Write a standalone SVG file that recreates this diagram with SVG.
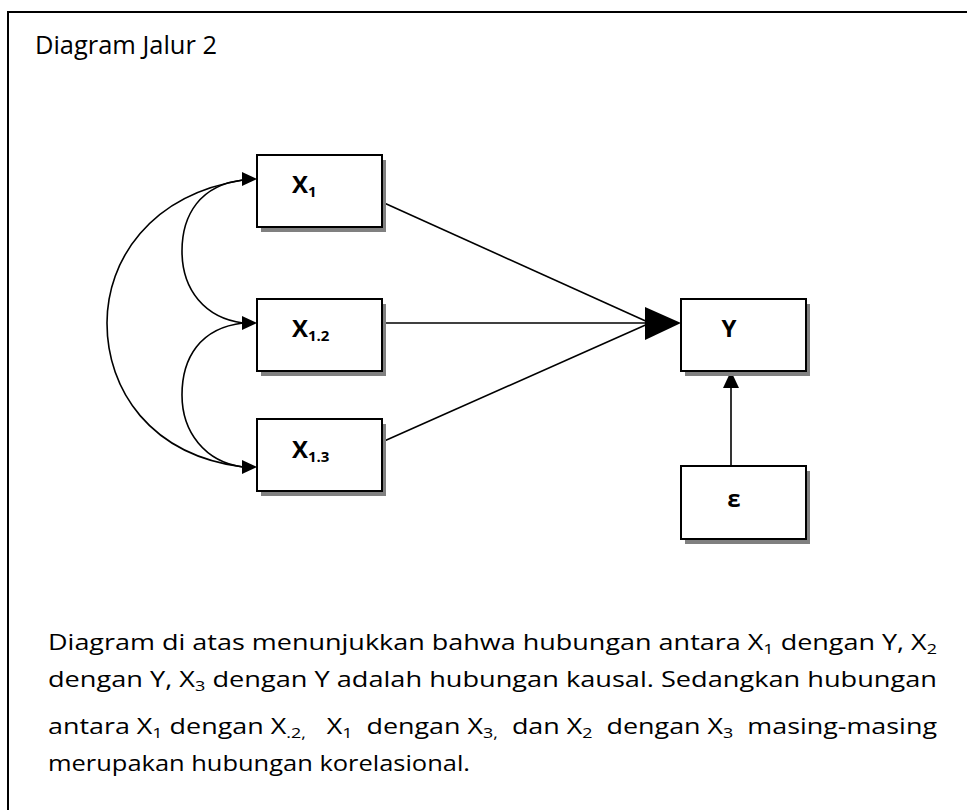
<svg xmlns="http://www.w3.org/2000/svg" xmlns:xlink="http://www.w3.org/1999/xlink" width="967" height="810" viewBox="0 0 967 810">
<style>
.box{fill:#fff;stroke:#000;stroke-width:2}
.shadow{fill:#808080;stroke:none}
.lbl{font-family:"Open Sans","Liberation Sans",sans-serif;font-weight:bold;font-size:24px;fill:#000}
.sub{font-size:15px}
.line{fill:none;stroke:#000;stroke-width:1.6}
.body{font-family:"Open Sans","Liberation Sans",sans-serif;font-size:21px;fill:#000;white-space:pre}
.bsub{font-size:14px}
</style>
<defs>
<path id="ah" d="M0,0 L-15,-7 L-15,7 Z" fill="#000"/>
</defs>
<rect width="967" height="810" fill="#fff"/>
<path d="M8,830 V12 H990" fill="none" stroke="#000" stroke-width="2"/>
<text x="35" y="54" class="body" style="font-size:25px" textLength="182" lengthAdjust="spacingAndGlyphs">Diagram Jalur 2</text>

<g id="connectors">
<line class="line" x1="382" y1="202" x2="650" y2="323"/>
<line class="line" x1="382" y1="323" x2="650" y2="323"/>
<line class="line" x1="382" y1="442" x2="650" y2="323"/>
<polygon points="645,307 681,323 645,340" fill="#000"/>
<line class="line" x1="731" y1="466" x2="731" y2="385"/>
<polygon points="723,388 731,371 739,388" fill="#000"/>
<path class="line" d="M243,180 C150,195 107,260 107,323 C107,390 150,455 243,467"/>
<path class="line" d="M243,180 C200,185 182,215 182,251 C182,290 205,318 243,323"/>
<path class="line" d="M243,323 C200,328 182,358 182,395 C182,432 205,462 243,467"/>
<use xlink:href="#ah" x="257" y="179"/>
<use xlink:href="#ah" x="257" y="323"/>
<use xlink:href="#ah" x="257" y="467"/>
</g>

<g id="node-x1">
<rect class="shadow" x="261" y="160" width="125" height="72"/>
<rect class="box" x="257" y="155" width="125" height="72"/>
<text class="lbl" x="292" y="193">X<tspan class="sub" dy="4">1</tspan></text>
</g>
<g id="node-x12">
<rect class="shadow" x="261" y="304" width="125" height="72"/>
<rect class="box" x="257" y="299" width="125" height="72"/>
<text class="lbl" x="292" y="337">X<tspan class="sub" dy="4">1.2</tspan></text>
</g>
<g id="node-x13">
<rect class="shadow" x="261" y="424" width="125" height="72"/>
<rect class="box" x="257" y="419" width="125" height="72"/>
<text class="lbl" x="292" y="458">X<tspan class="sub" dy="4">1.3</tspan></text>
</g>
<g id="node-y">
<rect class="shadow" x="685" y="304" width="125" height="72"/>
<rect class="box" x="681" y="299" width="125" height="72"/>
<text class="lbl" x="729" y="337" text-anchor="middle">Y</text>
</g>
<g id="node-e">
<rect class="shadow" x="685" y="471" width="125" height="73"/>
<rect class="box" x="681" y="466" width="125" height="73"/>
<text class="lbl" x="734" y="507" text-anchor="middle">ε</text>
</g>

<text class="body" x="48" y="650" textLength="889" lengthAdjust="spacingAndGlyphs">Diagram di atas menunjukkan bahwa hubungan antara X<tspan class="bsub" dy="4">1</tspan><tspan dy="-4"> dengan Y, X</tspan><tspan class="bsub" dy="4">2</tspan></text>
<text class="body" x="48" y="687" textLength="889" lengthAdjust="spacingAndGlyphs">dengan Y, X<tspan class="bsub" dy="4">3</tspan><tspan dy="-4"> dengan Y adalah hubungan kausal. Sedangkan hubungan</tspan></text>
<text class="body" x="48" y="734" textLength="889" lengthAdjust="spacingAndGlyphs">antara X<tspan class="bsub" dy="4">1</tspan><tspan dy="-4"> dengan X</tspan><tspan class="bsub" dy="4">.2,</tspan><tspan dy="-4">   X</tspan><tspan class="bsub" dy="4">1</tspan><tspan dy="-4">  dengan X</tspan><tspan class="bsub" dy="4">3,</tspan><tspan dy="-4">  dan X</tspan><tspan class="bsub" dy="4">2</tspan><tspan dy="-4">  dengan X</tspan><tspan class="bsub" dy="4">3</tspan><tspan dy="-4">  masing-masing</tspan></text>
<text class="body" x="48" y="771" textLength="422" lengthAdjust="spacingAndGlyphs">merupakan hubungan korelasional.</text>
</svg>
